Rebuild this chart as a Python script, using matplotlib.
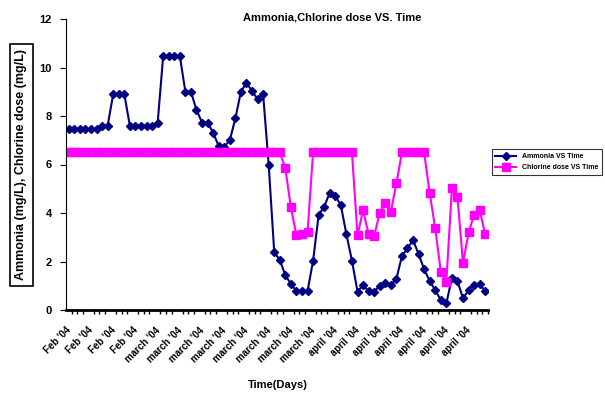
import matplotlib
matplotlib.use("Agg")
import matplotlib.pyplot as plt
import numpy as np

plt.rcParams['font.family'] = ['Liberation Sans', 'DejaVu Sans']
plt.rcParams['font.weight'] = 'bold'

# daily readings, Feb - April '04
ammonia = [7.45, 7.45, 7.45, 7.45, 7.45, 7.45, 7.6, 7.6, 8.9, 8.9,
           8.9, 7.6, 7.6, 7.6, 7.6, 7.6, 7.7, 10.47, 10.47, 10.47,
           10.47, 9.0, 9.0, 8.25, 7.73, 7.73, 7.31, 6.76, 6.73, 7.0,
           7.9, 9.0, 9.37, 9.03, 8.7, 8.9, 6.0, 2.39, 2.06, 1.44,
           1.07, 0.78, 0.78, 0.78, 2.03, 3.92, 4.26, 4.84, 4.7, 4.32,
           3.12, 2.03, 0.76, 1.03, 0.78, 0.76, 1.0, 1.1, 1.03, 1.28,
           2.23, 2.54, 2.89, 2.3, 1.68, 1.2, 0.82, 0.41, 0.27, 1.33,
           1.2, 0.48, 0.82, 1.03, 1.06, 0.78]
chlorine = [6.5] * 39 + [5.85, 4.23, 3.08, 3.13, 3.2] + [6.5] * 8 + \
           [3.08, 4.12, 3.13, 3.05, 4.01, 4.4, 4.05, 5.22] + [6.5] * 5 + \
           [4.81, 3.37, 1.58, 1.15, 5.04, 4.65, 1.92, 3.2, 3.92, 4.12, 3.12]
day_labels = ["Feb '04"] * 4 + ["march '04"] * 8 + ["april '04"] * 7

x = np.arange(len(ammonia))

fig = plt.figure(figsize=(6.05, 3.94), dpi=100)
ax = fig.add_axes([66 / 605, 1 - 310 / 394, 422 / 605, 291 / 394])

ax.plot(x, ammonia, color='#000080', marker='D', markersize=4, lw=1.5,
        label='Ammonia VS Time')
ax.plot(x, chlorine, color='#FF00FF', marker='s', markersize=5.5, lw=1.5,
        label='Chlorine dose VS Time')

ax.set_xlim(-0.5, len(x) - 0.5)
ax.set_ylim(0, 12)
ax.set_yticks(np.arange(0, 13, 2))
# labels sit on every 4th category boundary
ax.set_xticks(np.arange(0, len(x), 4) - 0.5)
ax.set_xticklabels(day_labels, rotation=45, ha='right', va='top',
                   rotation_mode='anchor', fontsize=7)
ax.set_xticks(np.arange(len(x) + 1) - 0.5, minor=True)
ax.tick_params(axis='x', which='major', length=0, pad=11)
ax.tick_params(axis='x', which='minor', length=3, width=1, direction='out')
ax.tick_params(axis='y', length=4, width=0.8, labelsize=8, pad=6)

for s in ['top', 'right']:
    ax.spines[s].set_visible(False)
ax.spines['bottom'].set_linewidth(2)
ax.spines['left'].set_linewidth(0.8)

ax.set_ylabel('Ammonia (mg/L), Chlorine dose (mg/L)', fontsize=9,
              fontweight='bold', labelpad=9,
              bbox=dict(facecolor='white', edgecolor='black', lw=1.2, pad=4))
fig.text(278 / 605, 1 - 385 / 394, 'Time(Days)', ha='center', va='center',
         fontsize=8, fontweight='bold')
fig.text(332 / 605, 1 - 17 / 394, 'Ammonia,Chlorine dose VS. Time',
         ha='center', va='center', fontsize=8, fontweight='bold')

leg = fig.legend(loc='upper right', bbox_to_anchor=(1.0, 1 - 146 / 394),
                 fontsize=5, frameon=True, fancybox=False, edgecolor='black',
                 handlelength=3, borderpad=0.5, labelspacing=0.6)
leg.get_frame().set_linewidth(0.8)

fig.savefig('out.png', dpi=100)
